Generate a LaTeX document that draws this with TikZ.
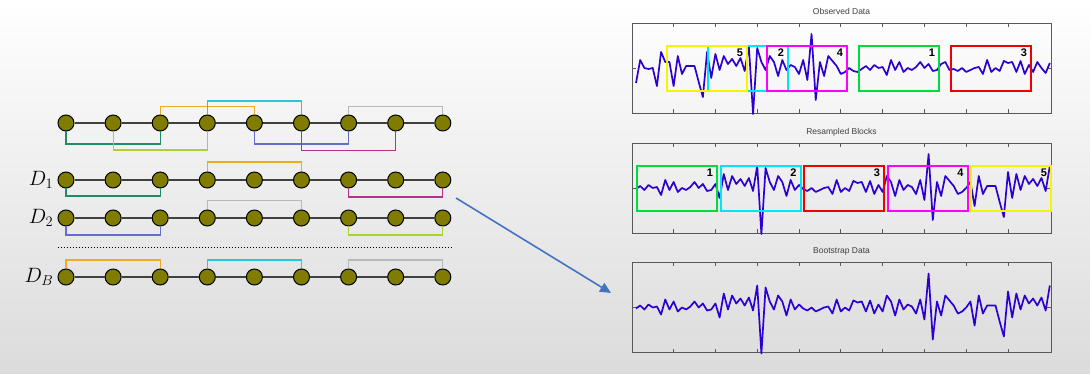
\documentclass[tikz,border=0pt]{standalone}
\usepackage{fontspec}
\usetikzlibrary{arrows.meta, positioning, calc}
\newfontfamily\plotfont{Liberation Sans}

\definecolor{beadfill}{RGB}{128,124,0}
\definecolor{lnorange}{RGB}{240,170,40}
\definecolor{lncyan}{RGB}{40,200,220}
\definecolor{lngray}{RGB}{185,185,185}
\definecolor{lngreen}{RGB}{30,140,100}
\definecolor{lnlime}{RGB}{170,210,50}
\definecolor{lnblue}{RGB}{100,110,200}
\definecolor{lnmagenta}{RGB}{180,50,140}
\definecolor{sigblue}{RGB}{45,0,210}
\definecolor{bxyellow}{RGB}{245,245,0}
\definecolor{bxcyan}{RGB}{0,230,240}
\definecolor{bxmagenta}{RGB}{255,0,255}
\definecolor{bxgreen}{RGB}{0,220,60}
\definecolor{bxred}{RGB}{240,0,0}
\definecolor{arrowblue}{RGB}{68,114,196}

% observed series (px above the zero line) and the start of each resampled block
\def\obsdata{{-15,8,0,-1,0,-18,16,6,6,-18,
  12,-6,2,2,2,-14,-29,16,-10,14,
  -2,12,4,9,2,10,-3,22,-46,20,
  6,-2,12,6,-8,8,-2,3,1,-6,
  8,-12,34,-32,6,-8,12,7,2,-6,
  -4,0,-3,-4,-1,2,-2,3,0,1,
  -7,8,-2,6,-4,0,-2,1,6,0,
  4,-3,-2,4,6,-2,-1,-3,0,-4,
  -2,0,1,-6,8,-4,0,-3,7,5,
  6,-4,7,-6,3,-4,6,0,-5,5}}
\def\blockstart{{54,18,76,32,8}}

\begin{document}
\begin{tikzpicture}[x=1pt, y=-1pt,
        % Chain styles
        bead/.style={circle, draw=black, line width=1pt, fill=beadfill, minimum size=16pt, inner sep=0pt},
        chainline/.style={draw=black!75, line width=1.4pt},
        link/.style={line width=1.1pt},
        seqlabel/.style={inner sep=1pt, font=\fontsize{21}{25}\selectfont},
        sepline/.style={draw=black, line width=0.9pt, dash pattern=on 1.2pt off 1.8pt},
        % Plot styles
        panel/.style={rectangle, draw=black!65, line width=0.8pt, minimum width=419pt, minimum height=90pt, inner sep=0pt},
        ptitle/.style={font=\plotfont\fontsize{8.5}{10}\selectfont, text=black!75, inner sep=1pt, text height=7pt, text depth=2pt},
        tick/.style={draw=black!65, line width=0.8pt},
        signal/.style={draw=sigblue, line width=1.7pt, line join=round},
        blockbox/.style={rectangle, line width=2.2pt, minimum width=80pt, minimum height=45pt, inner sep=0pt, anchor=north west},
        blocknum/.style={font=\plotfont\bfseries\fontsize{11}{13}\selectfont, anchor=north east, inner xsep=5pt, inner ysep=4pt},
        arrow/.style={draw=arrowblue, line width=1.6pt, -{Triangle[length=11pt, width=10pt]}}
    ]

    % --- BACKGROUND ---
    \shade[top color=white, middle color=black!3, bottom color=black!14] (0,0) rectangle (1090,374);
    \useasboundingbox (0,0) rectangle (1090,374);

    % --- BEAD CHAINS ---
    \foreach \r/\y in {0/123, 1/180, 2/218, B/277}{
        \foreach \i in {1,...,9}
            \node[bead] (r\r-\i) at ({66+47.1*(\i-1)}, \y) {};
        \foreach \i [count=\j from 2] in {1,...,8}
            \draw[chainline] (r\r-\i) -- (r\r-\j);
    }

    \node[seqlabel, left=3pt of r1-1] (lab1) {$D_1$};
    \node[seqlabel, left=3pt of r2-1] (lab2) {$D_2$};
    \node[seqlabel, left=3pt of rB-1] (labB) {$D_B$};

    % --- BLOCK LINKS: ORIGINAL SERIES ---
    \draw[link, lnorange] (r0-3.north) -- ++(0,-8) -| (r0-5.north);
    \draw[link, lncyan] (r0-4.north) -- ++(0,-13.5) -| (r0-6.north);
    \draw[link, lngray] (r0-7.north) -- ++(0,-8) -| (r0-9.north);
    \draw[link, lngreen] (r0-1.south) -- ++(0,12.5) -| (r0-3.south);
    \draw[link, lnlime] (r0-2.south) -- ++(0,18.5) -| (r0-4.south);
    \draw[link, lnblue] (r0-5.south) -- ++(0,12.5) -| (r0-7.south);
    \draw[link, lnmagenta] (r0-6.south) -- ++(0,19) -| (r0-8.south);

    % --- BLOCK LINKS: RESAMPLES ---
    \draw[link, lnorange] (r1-4.north) -- ++(0,-9.5) -| (r1-6.north);
    \draw[link, lngreen] (r1-1.south) -- ++(0,7.5) -| (r1-3.south);
    \draw[link, lnmagenta] (r1-7.south) -- ++(0,8.5) -| (r1-9.south);

    \draw[link, lngray] (r2-4.north) -- ++(0,-9) -| (r2-6.north);
    \draw[link, lnblue] (r2-1.south) -- ++(0,8.5) -| (r2-3.south);
    \draw[link, lnlime] (r2-7.south) -- ++(0,8.5) -| (r2-9.south);

    \draw[sepline] ($(r2-1.west)!0.5!(rB-1.west)$) -- ($(r2-9.east)!0.5!(rB-9.east)$);

    \draw[link, lnorange] (rB-1.north) -- ++(0,-8.5) -| (rB-3.north);
    \draw[link, lncyan] (rB-4.north) -- ++(0,-8.5) -| (rB-6.north);
    \draw[link, lngray] (rB-7.north) -- ++(0,-8.5) -| (rB-9.north);

    % --- PLOT PANELS ---
    \node[panel] (obs) at (841.5,68) {};
    \node[panel] (res) at (841.5,188) {};
    \node[panel] (boot) at (841.5,307.5) {};
    \node[ptitle, above=5pt of obs] (obstitle) {Observed Data};
    \node[ptitle, above=5pt of res] (restitle) {Resampled Blocks};
    \node[ptitle, above=5pt of boot] (boottitle) {Bootstrap Data};

    \foreach \p in {obs, res, boot}{
        \foreach \k in {1,...,9}{
            \draw[tick] ($(\p.north west)+(41.85*\k,0)$) -- ++(0,4);
            \draw[tick] ($(\p.south west)+(41.85*\k,0)$) -- ++(0,-4);
        }
        \draw[tick] (\p.west) -- ++(4,0);
        \draw[tick] (\p.east) -- ++(-4,0);
    }

    % --- SIGNALS ---
    \foreach \i in {0,...,99}{
        \pgfmathsetmacro\sampv{\obsdata[\i]}
        \coordinate (o\i) at ({636+4.18*\i},{68-\sampv});
        \pgfmathtruncatemacro\blkno{floor(\i/20)}
        \pgfmathtruncatemacro\blkofs{mod(\i,20)}
        \pgfmathtruncatemacro\blkst{\blockstart[\blkno]}
        \pgfmathtruncatemacro\srci{\blkst+\blkofs}
        \pgfmathsetmacro\resv{\obsdata[\srci]}
        \coordinate (s\i) at ({636+4.18*\i},{188-\resv});
        \coordinate (b\i) at ({636+4.18*\i},{307.5-\resv});
    }
    \draw[signal] (o0) \foreach \i in {1,...,99}{ -- (o\i)};
    \draw[signal] (s0) \foreach \i in {1,...,99}{ -- (s\i)};
    \draw[signal] (b0) \foreach \i in {1,...,99}{ -- (b\i)};

    % --- BLOCKS IN THE OBSERVED DATA ---
    \node[blockbox, draw=bxcyan] (ob2) at (707,45) {};
    \node[blockbox, draw=bxyellow] (ob5) at (666,45) {};
    \node[blockbox, draw=bxmagenta] (ob4) at (766,45) {};
    \node[blockbox, draw=bxgreen] (ob1) at (858,45) {};
    \node[blockbox, draw=bxred] (ob3) at (950,45) {};
    \foreach \b in {1,...,5}
        \node[blocknum] at (ob\b.north east) {\b};

    % --- RESAMPLED BLOCKS ---
    \node[blockbox, draw=bxgreen] (rb1) at (636,165) {};
    \node[blockbox, draw=bxcyan] (rb2) at (719.5,165) {};
    \node[blockbox, draw=bxred] (rb3) at (803,165) {};
    \node[blockbox, draw=bxmagenta] (rb4) at (886.5,165) {};
    \node[blockbox, draw=bxyellow] (rb5) at (970,165) {};
    \foreach \b in {1,...,5}
        \node[blocknum] at (rb\b.north east) {\b};

    % --- ARROW ---
    \coordinate (arrfrom) at (456,198);
    \coordinate (arrto) at (611,293);
    \draw[arrow] (arrfrom) -- (arrto);

\end{tikzpicture}
\end{document}
